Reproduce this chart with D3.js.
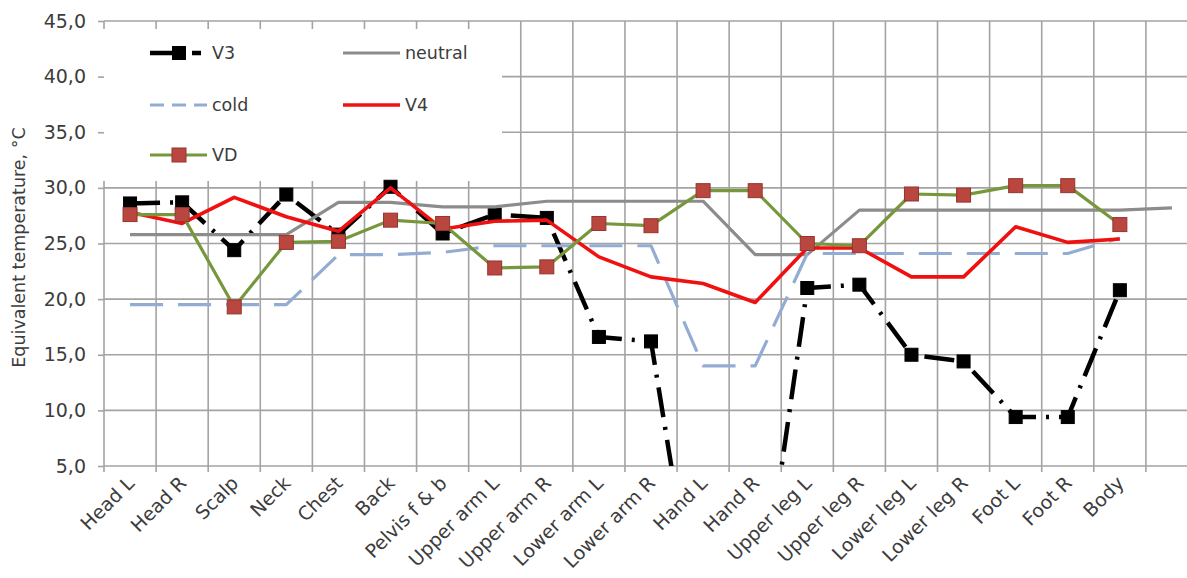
<!DOCTYPE html>
<html>
<head>
<meta charset="utf-8">
<script src="https://cdn.jsdelivr.net/npm/d3@7"></script>
<style>
  html, body { margin: 0; padding: 0; background: #fff; }
  svg { display: block; font-family: "DejaVu Sans", "Liberation Sans", Arial, sans-serif; }
</style>
</head>
<body>
<svg id="chart" width="1187" height="578"></svg>
<script>
// Body segments (the last slot is an unlabeled spare column)
const categories = ["Head L", "Head R", "Scalp", "Neck", "Chest", "Back", "Pelvis f & b",
  "Upper arm L", "Upper arm R", "Lower arm L", "Lower arm R", "Hand L", "Hand R",
  "Upper leg L", "Upper leg R", "Lower leg L", "Lower leg R", "Foot L", "Foot R", "Body", ""];

// Equivalent temperatures, °C
const v3      = [28.6, 28.7, 24.4, 29.4, 25.8, 30.1, 25.9, 27.6, 27.3, 16.6, 16.2, -12.5, -11.5,
                 21.0, 21.3, 15.0, 14.4, 9.4, 9.4, 20.8];
const neutral = [25.8, 25.8, 25.8, 25.8, 28.7, 28.7, 28.3, 28.3, 28.8, 28.8, 28.8, 28.8, 24.0,
                 24.0, 28.0, 28.0, 28.0, 28.0, 28.0, 28.0, 28.2];
const cold    = [19.5, 19.5, 19.5, 19.5, 24.0, 24.0, 24.2, 24.8, 24.8, 24.8, 24.8, 14.0, 14.0,
                 24.1, 24.1, 24.1, 24.1, 24.1, 24.1, 25.5];
const v4      = [27.8, 26.8, 29.15, 27.4, 26.1, 30.0, 26.3, 27.0, 27.1, 23.8, 22.0, 21.4, 19.7,
                 24.6, 24.6, 22.0, 22.0, 26.5, 25.1, 25.4];
const vd      = [27.6, 27.6, 19.3, 25.1, 25.2, 27.1, 26.8, 22.8, 22.9, 26.8, 26.6, 29.75, 29.75,
                 25.0, 24.8, 29.45, 29.35, 30.2, 30.2, 26.7];

const yTicks = [5, 10, 15, 20, 25, 30, 35, 40, 45];

const svg = d3.select("#chart");
const plotL = 104, plotR = 1198, plotT = 21, plotB = 466;

const x = d3.scaleBand().domain(d3.range(categories.length)).range([plotL, plotR]).padding(0);
const y = d3.scaleLinear().domain([5, 45]).range([plotB, plotT]);
const cx = i => x(i) + x.bandwidth() / 2;

const gridColor = "#a3a3a3";
const textColor = "#3c3c3c";
const fontFamily = "DejaVu Sans, Liberation Sans, Arial, sans-serif";

// gridlines
const grid = svg.append("g");
grid.selectAll("line.h").data(yTicks).join("line")
  .attr("x1", plotL).attr("x2", plotR)
  .attr("y1", d => y(d)).attr("y2", d => y(d))
  .attr("stroke", gridColor).attr("stroke-width", 1.6);
const vBounds = d3.range(categories.length + 1).map(i => i < categories.length ? x(i) : plotR);
grid.selectAll("line.v").data(vBounds).join("line")
  .attr("x1", d => d).attr("x2", d => d)
  .attr("y1", plotT).attr("y2", plotB + 6)
  .attr("stroke", gridColor).attr("stroke-width", 1.6);

// legend background
svg.append("rect").attr("x", plotL - 1).attr("y", 29).attr("width", 502 - plotL + 1).attr("height", 152)
  .attr("fill", "#fff");

// y axis
const yAxis = svg.append("g").attr("transform", `translate(${plotL},0)`)
  .call(d3.axisLeft(y).tickValues(yTicks).tickSize(6).tickPadding(12)
    .tickFormat(d => d3.format(".1f")(d).replace(".", ",")));
yAxis.select(".domain").remove();
yAxis.selectAll("line").attr("stroke", gridColor).attr("stroke-width", 1.6);
yAxis.selectAll("text").attr("fill", textColor).attr("font-size", 19)
  .attr("font-family", fontFamily);

// y title
svg.append("text")
  .attr("transform", `translate(25,${(plotT + plotB) / 2 + 4}) rotate(-90)`)
  .attr("text-anchor", "middle").attr("fill", textColor).attr("font-size", 17.5)
  .text("Equivalent temperature, °C");

// x labels
svg.append("g").selectAll("text").data(categories).join("text")
  .attr("transform", (d, i) => `translate(${cx(i) - 4},${plotB + 9}) rotate(-45)`)
  .attr("text-anchor", "end").attr("dy", "0.7em")
  .attr("fill", textColor).attr("font-size", 19)
  .text(d => d);

// plot clip
svg.append("clipPath").attr("id", "plotClip").append("rect")
  .attr("x", plotL).attr("y", plotT - 10).attr("width", plotR - plotL).attr("height", plotB - plotT + 10);

const line = d3.line().x((d, i) => cx(i)).y(d => y(d));
const plot = svg.append("g").attr("clip-path", "url(#plotClip)");

const series = [
  { name: "V3", data: v3, color: "#000", width: 4.5, dash: "30,10,3,10", marker: { fill: "#000", stroke: "#000", size: 13 } },
  { name: "neutral", data: neutral, color: "#8c8c8c", width: 3.2 },
  { name: "cold", data: cold, color: "#93acd4", width: 3.2, dash: "33,15" },
  { name: "V4", data: v4, color: "#f01010", width: 3.6 },
  { name: "VD", data: vd, color: "#77973d", width: 3.2, marker: { fill: "#b9463f", stroke: "#96342f", size: 14 } }
];

series.forEach(s => {
  plot.append("path").datum(s.data)
    .attr("d", line).attr("fill", "none")
    .attr("stroke", s.color).attr("stroke-width", s.width)
    .attr("stroke-dasharray", s.dash || null)
    .attr("stroke-linejoin", "round");
  if (s.marker) {
    plot.selectAll(null).data(s.data).join("rect")
      .attr("x", (d, i) => cx(i) - s.marker.size / 2)
      .attr("y", d => y(d) - s.marker.size / 2)
      .attr("width", s.marker.size).attr("height", s.marker.size)
      .attr("fill", s.marker.fill).attr("stroke", s.marker.stroke).attr("stroke-width", 1);
  }
});

// legend
const legendItems = [
  { s: series[0], x: 150, y: 53 },
  { s: series[1], x: 343, y: 53 },
  { s: series[2], x: 150, y: 105 },
  { s: series[3], x: 343, y: 105 },
  { s: series[4], x: 150, y: 155 }
];
const lg = svg.append("g");
legendItems.forEach(it => {
  const s = it.s;
  const g = lg.append("g");
  g.append("line").attr("x1", it.x).attr("x2", it.x + 57).attr("y1", it.y).attr("y2", it.y)
    .attr("stroke", s.color).attr("stroke-width", s.width)
    .attr("stroke-dasharray", s.name === "V3" ? "22,20,9,20" : (s.name === "cold" ? "14,8" : null));
  if (s.marker) {
    g.append("rect").attr("x", it.x + 29 - s.marker.size / 2).attr("y", it.y - s.marker.size / 2)
      .attr("width", s.marker.size).attr("height", s.marker.size)
      .attr("fill", s.marker.fill).attr("stroke", s.marker.stroke);
  }
  g.append("text").attr("x", it.x + 62).attr("y", it.y).attr("dy", "0.36em")
    .attr("fill", textColor).attr("font-size", 17.5).text(s.name);
});
</script>
</body>
</html>
